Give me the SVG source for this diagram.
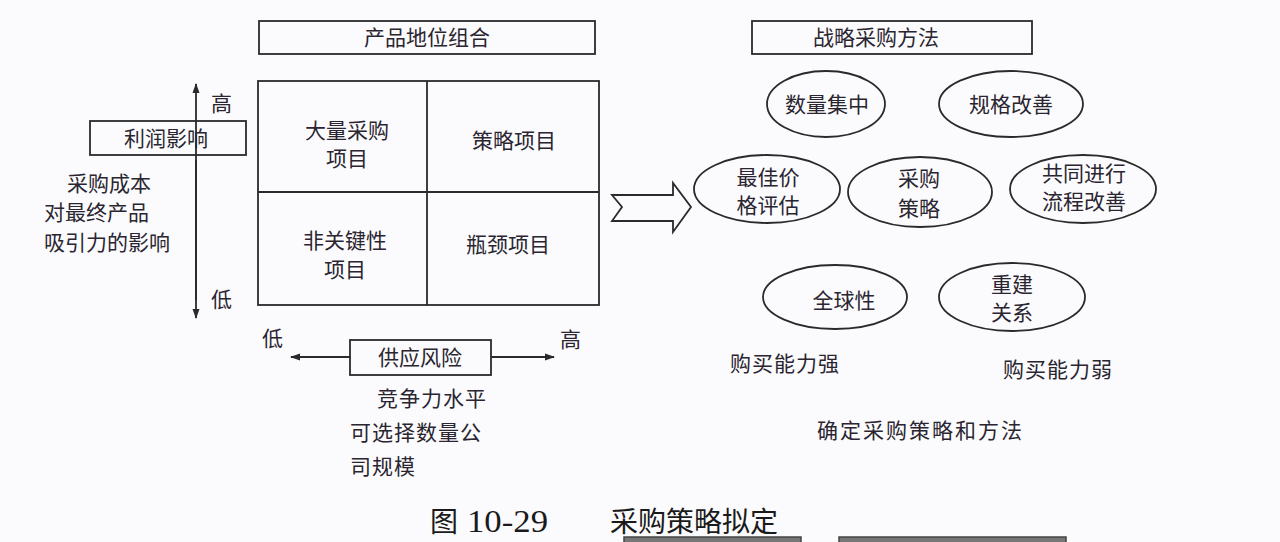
<svg xmlns="http://www.w3.org/2000/svg" width="1280" height="542" viewBox="0 0 1280 542">
<defs>
<style>
.t{font-family:"Noto Sans CJK SC","Noto Sans",sans-serif;font-size:21px;fill:#2a2530;}
.c{text-anchor:middle;}
.box{fill:none;stroke:#2a2a2a;stroke-width:1.8;}
.ln{fill:none;stroke:#2a2a2a;stroke-width:1.8;}
.el{fill:none;stroke:#2a2a2a;stroke-width:1.8;}
.cap{font-family:"Liberation Serif","Noto Sans CJK SC",serif;font-size:28px;fill:#1a1a1a;}
</style>
<marker id="ah" viewBox="0 0 10 10" refX="9" refY="5" markerWidth="10" markerHeight="10" markerUnits="userSpaceOnUse" orient="auto">
<path d="M0,1.5 L10,5 L0,8.5 Z" fill="#2a2a2a"/>
</marker>
</defs>
<rect x="0" y="0" width="1280" height="542" fill="#fbfbfd"/>

<g id="connectors">
<line class="ln" x1="196" y1="300" x2="196" y2="84" marker-end="url(#ah)"/>
<line class="ln" x1="196" y1="160" x2="196" y2="318" marker-end="url(#ah)"/>
<line class="ln" x1="350" y1="357" x2="291" y2="357" marker-end="url(#ah)"/>
<line class="ln" x1="491" y1="357" x2="554" y2="357" marker-end="url(#ah)"/>
<path id="bigArrow" class="ln" d="M612,195 L673,195 L673,183 L691,207 L673,232 L673,221 L612,221 L622,207 Z" fill="#fbfbfd"/>
</g>

<g id="title-left">
<rect class="box" x="259" y="21" width="336" height="33"/>
<text class="t c" x="427" y="45">产品地位组合</text>
</g>
<g id="title-right">
<rect class="box" x="752" y="21" width="280" height="33"/>
<text class="t c" x="876" y="45">战略采购方法</text>
</g>

<g id="matrix">
<rect class="box" x="258" y="81" width="341" height="224"/>
<line class="ln" x1="427" y1="81" x2="427" y2="305"/>
<line class="ln" x1="258" y1="192" x2="599" y2="192"/>
</g>
<g id="cell-volume">
<text class="t c" x="347" y="138">大量采购</text>
<text class="t c" x="347" y="166">项目</text>
</g>
<g id="cell-strategic">
<text class="t c" x="514" y="148">策略项目</text>
</g>
<g id="cell-noncritical">
<text class="t c" x="345" y="248">非关键性</text>
<text class="t c" x="345" y="277">项目</text>
</g>
<g id="cell-bottleneck">
<text class="t c" x="508" y="252">瓶颈项目</text>
</g>

<g id="profit-axis">
<text class="t" x="211" y="111">高</text>
<text class="t" x="211" y="307">低</text>
<rect class="box" x="90" y="121" width="156" height="34" fill="#fbfbfd"/>
<text class="t c" x="166" y="146">利润影响</text>
<text class="t" x="67" y="191">采购成本</text>
<text class="t" x="44" y="220">对最终产品</text>
<text class="t" x="44" y="250">吸引力的影响</text>
</g>

<g id="risk-axis">
<text class="t" x="262" y="346">低</text>
<text class="t" x="560" y="347">高</text>
<rect class="box" x="350" y="340" width="141" height="35"/>
<text class="t c" x="420" y="365">供应风险</text>
<text class="t" x="377" y="406" letter-spacing="1">竞争力水平</text>
<text class="t" x="350" y="440" letter-spacing="1">可选择数量公</text>
<text class="t" x="350" y="474" letter-spacing="1">司规模</text>
</g>

<g id="e-volume">
<ellipse class="el" cx="826" cy="104" rx="59" ry="33"/>
<text class="t c" x="827" y="112">数量集中</text>
</g>
<g id="e-spec">
<ellipse class="el" cx="1011" cy="104" rx="72" ry="33"/>
<text class="t c" x="1011" y="112">规格改善</text>
</g>
<g id="e-price">
<ellipse class="el" cx="767" cy="189" rx="73" ry="34"/>
<text class="t c" x="768" y="185">最佳价</text>
<text class="t c" x="768" y="213">格评估</text>
</g>
<g id="e-strategy">
<ellipse class="el" cx="920" cy="192" rx="72" ry="35"/>
<text class="t c" x="919" y="186">采购</text>
<text class="t c" x="919" y="216">策略</text>
</g>
<g id="e-process">
<ellipse class="el" cx="1083" cy="189" rx="73" ry="34"/>
<text class="t c" x="1084" y="181" font-size="19">共同进行</text>
<text class="t c" x="1084" y="209" font-size="19">流程改善</text>
</g>
<g id="e-global">
<ellipse class="el" cx="835" cy="297" rx="72" ry="32"/>
<text class="t c" x="844" y="308">全球性</text>
</g>
<g id="e-relation">
<ellipse class="el" cx="1012" cy="297" rx="73" ry="34"/>
<text class="t c" x="1012" y="292">重建</text>
<text class="t c" x="1012" y="320">关系</text>
</g>

<g id="labels">
<text class="t" x="730" y="371" letter-spacing="1">购买能力强</text>
<text class="t" x="1003" y="377" letter-spacing="1">购买能力弱</text>
<text class="t" x="817" y="438" letter-spacing="2">确定采购策略和方法</text>
</g>

<g id="caption">
<text class="cap" x="430" y="532">图<tspan x="467" textLength="81" lengthAdjust="spacingAndGlyphs" font-size="31">10-29</tspan><tspan x="610">采购策略拟定</tspan></text>
</g>

<g id="bottom-bars">
<rect x="624" y="537" width="177" height="8" fill="#777" stroke="#444" stroke-width="1.5"/>
<rect x="839" y="537" width="227" height="8" fill="#777" stroke="#444" stroke-width="1.5"/>
</g>
</svg>
